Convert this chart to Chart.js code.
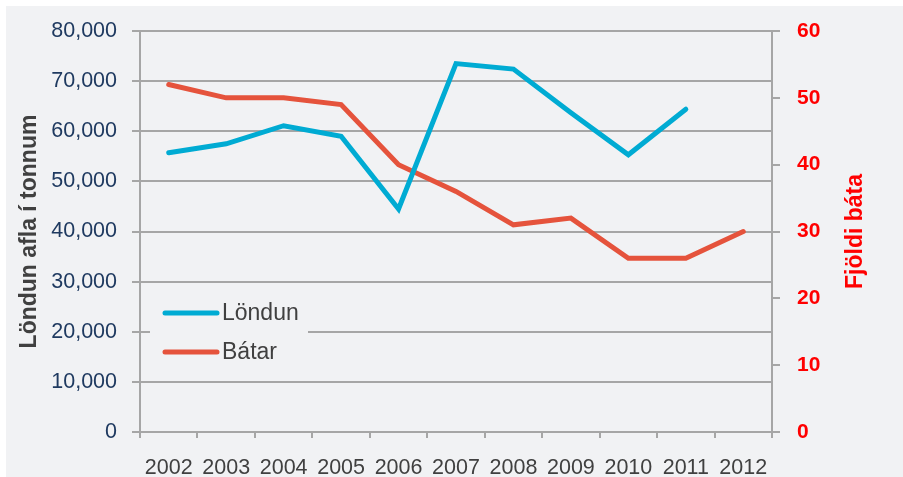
<!DOCTYPE html>
<html lang="is">
<head>
<meta charset="UTF-8">
<title>Löndun og bátar</title>
<style>
  html, body { margin: 0; padding: 0; background: #ffffff; }
  #wrap { position: relative; width: 903px; height: 477px; }
</style>
</head>
<body>
<div id="wrap"><canvas id="chart" width="903" height="477"></canvas></div>
<script src="https://cdn.jsdelivr.net/npm/chart.js"></script>
<script>
// Chart data
const years = ['2002', '2003', '2004', '2005', '2006', '2007', '2008', '2009', '2010', '2011', '2012'];
const londun = [55700, 57500, 61100, 59000, 44500, 73500, 72400, 63700, 55300, 64400, null];
const batar = [52, 50, 50, 49, 40, 36, 31, 32, 26, 26, 30];

const bg = '#f1f2f4';
const gridGray = '#a6a6a6';
const cyan = '#00abd3';
const red = '#e5533c';
const fam = '"Liberation Sans", Arial, sans-serif';

// background panel (white margin on top / left like the original)
const panelBg = {
  id: 'panelBg',
  beforeDraw(chart) {
    const ctx = chart.ctx;
    ctx.save();
    ctx.fillStyle = bg;
    ctx.fillRect(6, 6, chart.width - 6, chart.height - 6);
    ctx.restore();
  }
};

// legend inside the plot + right axis title reading upwards
const extras = {
  id: 'extras',
  afterDraw(chart) {
    const ctx = chart.ctx;
    const area = chart.chartArea;
    ctx.save();
    // legend box
    const lx = area.left + 13, ly = area.top + 266;
    ctx.fillStyle = bg;
    ctx.fillRect(lx - 3, ly, 158, 78);
    chart.data.datasets.forEach((ds, i) => {
      const y = ly + 16 + i * 39;
      ctx.strokeStyle = ds.borderColor;
      ctx.lineWidth = 5;
      ctx.lineCap = 'round';
      ctx.beginPath();
      ctx.moveTo(lx + 12, y);
      ctx.lineTo(lx + 64, y);
      ctx.stroke();
      ctx.fillStyle = '#404040';
      ctx.font = '23px ' + fam;
      ctx.textBaseline = 'middle';
      ctx.fillText(ds.label, lx + 69, y + 1);
    });
    // right title
    ctx.translate(856, (area.top + area.bottom) / 2);
    ctx.rotate(-Math.PI / 2);
    ctx.fillStyle = '#ff0000';
    ctx.font = 'bold 23px ' + fam;
    ctx.textAlign = 'center';
    ctx.textBaseline = 'middle';
    ctx.fillText('Fjöldi báta', 0, 0);
    ctx.restore();
  }
};

new Chart(document.getElementById('chart'), {
  type: 'line',
  data: {
    labels: years,
    datasets: [
      {
        label: 'Löndun',
        data: londun,
        yAxisID: 'y',
        borderColor: cyan,
        backgroundColor: cyan,
        borderWidth: 5,
        pointRadius: 0,
        borderCapStyle: 'round',
        borderJoinStyle: 'miter',
        tension: 0
      },
      {
        label: 'Bátar',
        data: batar,
        yAxisID: 'y1',
        borderColor: red,
        backgroundColor: red,
        borderWidth: 5,
        pointRadius: 0,
        borderCapStyle: 'round',
        borderJoinStyle: 'miter',
        tension: 0
      }
    ]
  },
  options: {
    responsive: false,
    animation: false,
    layout: { padding: { top: 31, left: 0, right: 0, bottom: 0 } },
    plugins: {
      legend: { display: false },
      tooltip: { enabled: false }
    },
    scales: {
      x: {
        offset: true,
        grid: {
          offset: true,
          drawOnChartArea: false,
          color: gridGray,
          lineWidth: 2,
          tickLength: 6
        },
        border: { color: gridGray, width: 2 },
        ticks: {
          color: '#404040',
          padding: 17,
          maxRotation: 0,
          font: { family: fam, size: 21.5 }
        },
        afterFit(s) { s.height = 45; }
      },
      y: {
        position: 'left',
        min: 0,
        max: 80000,
        ticks: {
          stepSize: 10000,
          color: '#1f3a60',
          padding: 15,
          font: { family: fam, size: 21.5 },
          callback: v => v.toLocaleString('en-US')
        },
        grid: { color: gridGray, lineWidth: 2, tickLength: 8 },
        border: { color: gridGray, width: 2 },
        title: {
          display: true,
          text: 'Löndun afla í tonnum',
          color: '#404040',
          padding: { top: 16, bottom: 0 },
          font: { family: fam, size: 23, weight: 'bold' }
        },
        afterFit(s) { s.width = 140; }
      },
      y1: {
        position: 'right',
        min: 0,
        max: 60,
        ticks: {
          stepSize: 10,
          color: '#ff0000',
          padding: 17,
          font: { family: fam, size: 21, weight: 'bold' }
        },
        grid: { drawOnChartArea: false, color: gridGray, lineWidth: 2, tickLength: 8 },
        border: { color: gridGray, width: 2 },
        afterFit(s) { s.width = 131; }
      }
    }
  },
  plugins: [panelBg, extras]
});
</script>
</body>
</html>
